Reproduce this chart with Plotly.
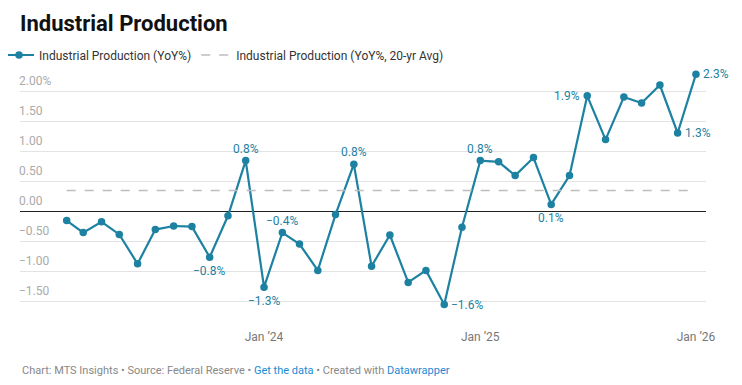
import pandas as pd
import plotly.graph_objects as go

# ---------------- data ----------------
months = pd.date_range("2023-02-01", "2026-01-01", freq="MS")
ip_yoy = [-0.16, -0.36, -0.18, -0.39, -0.88, -0.31, -0.25, -0.26, -0.77, -0.08,
          0.84, -1.27, -0.36, -0.55, -0.99, -0.06, 0.78, -0.92, -0.40, -1.19,
          -0.99, -1.56, -0.27, 0.84, 0.82, 0.59, 0.89, 0.11, 0.59, 1.92,
          1.19, 1.90, 1.80, 2.10, 1.30, 2.28]
avg_20yr = 0.34

y_tickvals = [-1.5, -1.0, -0.5, 0.0, 0.5, 1.0, 1.5, 2.0]
y_ticktext = ["\u22121.50", "\u22121.00", "\u22120.50", "0.00", "0.50", "1.00", "1.50", "2.00%"]
x_tickvals = ["2024-01-01", "2025-01-01", "2026-01-01"]
x_ticktext = ["Jan \u201924", "Jan \u201925", "Jan \u201926"]

# indices of labelled points and where the label sits
label_idx = [8, 10, 11, 12, 16, 21, 23, 27, 29, 34, 35]
label_pos = ["below", "above", "below", "above", "above", "right", "above", "below", "left", "right", "right"]

TEAL = "#1d81a2"
FONT = "Roboto, Arial, sans-serif"
# the page body has an 8px default margin; size the figure to fit the window
OFF = 8
W, H = 742 - OFF, 385 - OFF
M_L, M_R, M_T, M_B = 12, 36, 59, 78
PLOT_H = H - M_T - M_B
PLOT_W = W - M_L - M_R

fig = go.Figure()
fig.add_trace(go.Scatter(
    x=months, y=ip_yoy, mode="lines+markers",
    name="Industrial Production (YoY%)",
    line=dict(color=TEAL, width=2.2), marker=dict(color=TEAL, size=7.5),
    cliponaxis=False,
))
fig.add_trace(go.Scatter(
    x=[months[0], months[-1]], y=[avg_20yr, avg_20yr], mode="lines",
    name="Industrial Production (YoY%, 20-yr Avg)",
    line=dict(color="#bdbdbd", width=1.5, dash="dash"),
))

def fmt(v):
    s = f"{abs(v):.1f}%"
    return ("\u2212" + s) if v < 0 else s

for i, pos in zip(label_idx, label_pos):
    a = dict(x=months[i], y=ip_yoy[i], text=fmt(ip_yoy[i]), showarrow=False,
             font=dict(family=FONT, size=12, color=TEAL))
    if pos == "above":
        a.update(yanchor="bottom", xanchor="center", yshift=3)
    elif pos == "below":
        a.update(yanchor="top", xanchor="center", yshift=-5)
    elif pos == "right":
        a.update(xanchor="left", yanchor="middle", xshift=5)
    else:
        a.update(xanchor="right", yanchor="middle", xshift=-5)
    fig.add_annotation(**a)

foot_y = (H - M_B - (370 - OFF)) / PLOT_H
fig.add_annotation(
    xref="paper", yref="paper", x=0, y=foot_y, xanchor="left", yanchor="middle",
    showarrow=False, align="left",
    text=("Chart: MTS Insights \u2022 Source: Federal Reserve \u2022 "
          "<span style='color:#1a8ad4'>Get the data</span> \u2022 Created with "
          "<span style='color:#1a8ad4'>Datawrapper</span>"),
    font=dict(family=FONT, size=11, color="#888888"),
)

x0 = pd.Timestamp("2024-01-01") - pd.Timedelta(days=413)
x1 = pd.Timestamp("2026-01-01") + pd.Timedelta(days=17)

fig.update_layout(
    width=W, height=H,
    margin=dict(l=M_L, r=M_R, t=M_T, b=M_B, pad=0, autoexpand=False),
    paper_bgcolor="white", plot_bgcolor="white",
    font=dict(family=FONT, size=12, color="#333333"),
    title=dict(text="<b>Industrial Production</b>", x=0, xref="paper", xanchor="left",
               y=1 - (23 - OFF) / H, yanchor="middle", yref="container",
               font=dict(family=FONT, size=22, color="#111111")),
    showlegend=True,
    legend=dict(orientation="h", x=-21 / PLOT_W, xanchor="left",
                y=(H - M_B - (55 - OFF)) / PLOT_H, yref="paper", yanchor="middle",
                font=dict(family=FONT, size=12, color="#333333"),
                bgcolor="rgba(0,0,0,0)", traceorder="normal"),
    xaxis=dict(range=[x0, x1], tickvals=x_tickvals, ticktext=x_ticktext,
               showgrid=False, zeroline=False, showline=False, ticks="",
               tickfont=dict(family=FONT, size=12, color="#777777"),
               ticklabelstandoff=21),
    yaxis=dict(range=[-1.6, 2.4], tickvals=y_tickvals, ticktext=y_ticktext,
               showgrid=True, gridcolor="#e3e3e3", gridwidth=1,
               zeroline=True, zerolinecolor="#222222", zerolinewidth=1,
               ticks="", ticklabelposition="inside top", showline=False,
               ticklabelstandoff=-4, ticklabelshift=-2,
               tickfont=dict(family=FONT, size=12, color="#aaaaaa")),
)

fig.write_html("out.html")
